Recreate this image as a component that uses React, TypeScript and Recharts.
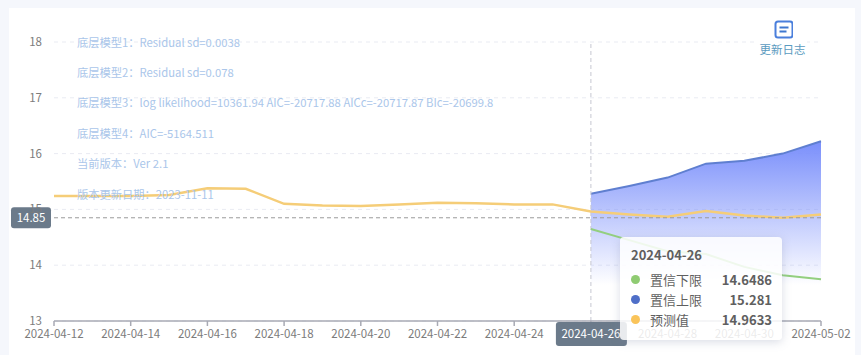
import React from "react";
import {
  ComposedChart,
  Area,
  Line,
  XAxis,
  YAxis,
  CartesianGrid,
  Tooltip,
  ReferenceLine,
} from "recharts";

const FONT = '"Noto Sans CJK SC", "Noto Sans", sans-serif';

const dates = [
  "2024-04-12", "2024-04-13", "2024-04-14", "2024-04-15", "2024-04-16", "2024-04-17", "2024-04-18",
  "2024-04-19", "2024-04-20", "2024-04-21", "2024-04-22", "2024-04-23", "2024-04-24", "2024-04-25",
  "2024-04-26", "2024-04-27", "2024-04-28", "2024-04-29", "2024-04-30", "2024-05-01", "2024-05-02",
];
const predicted = [
  15.24, 15.24, 15.24, 15.26, 15.38, 15.37, 15.1, 15.07, 15.06, 15.09, 15.12, 15.11, 15.09, 15.09,
  14.9633, 14.91, 14.87, 14.97, 14.89, 14.85, 14.91,
];
const upperDates = dates.slice(14);
const upper = [15.281, 15.42, 15.57, 15.82, 15.87, 16.0, 16.22];
const lower = [14.6486, 14.45, 14.25, 14.2, 13.97, 13.82, 13.75];

const xTicks = dates.filter((_, i) => i % 2 === 0);
const yTicks = [13, 14, 15, 16, 17, 18];
const activeDate = "2024-04-26";
const currentValue = 14.85;

const notes = [
  "底层模型1：Residual sd=0.0038",
  "底层模型2：Residual sd=0.078",
  "底层模型3：log likelihood=10361.94 AIC=-20717.88 AICc=-20717.87 BIc=-20699.8",
  "底层模型4：AIC=-5164.511",
  "当前版本：Ver 2.1",
  "版本更新日期：2023-11-11",
];
const noteTops = [32, 62, 92, 123, 153, 184];

const data = dates.map((date, i) => {
  const k = upperDates.indexOf(date);
  return {
    date,
    predicted: predicted[i],
    upper: k >= 0 ? upper[k] : null,
    lower: k >= 0 ? lower[k] : null,
  };
});

const rows = [
  { key: "lower", name: "置信下限", color: "#8fcb72" },
  { key: "upper", name: "置信上限", color: "#4f6fc8" },
  { key: "predicted", name: "预测值", color: "#fac45a" },
];

function XTick({ x, y, payload }: any) {
  const active = payload.value === activeDate;
  return (
    <g>
      {active && <rect x={x - 35} y={y - 6} width={71} height={24} rx={3} fill="#6b7a8a" />}
      <text x={x} y={y + 10} textAnchor="middle" fontSize={11.5} fontFamily={FONT} fill={active ? "#fff" : "#7c7c7c"}>
        {payload.value}
      </text>
    </g>
  );
}

function ValueBadge({ viewBox }: any) {
  return (
    <g>
      <rect x={viewBox.x - 43} y={viewBox.y - 10.5} width={40} height={21} rx={3} fill="#6b7a8a" />
      <text x={viewBox.x - 23} y={viewBox.y + 4} textAnchor="middle" fontSize={11.5} fontFamily={FONT} fill="#fff">
        {currentValue}
      </text>
    </g>
  );
}

function TipBox({ payload, label }: any) {
  const item = payload && payload[0] ? payload[0].payload : data[14];
  return (
    <div
      style={{
        width: 162,
        height: 103,
        boxSizing: "border-box",
        padding: "9px 10px 0 11px",
        background: "rgba(255,255,255,0.85)",
        borderRadius: 4,
        boxShadow: "0 2px 10px rgba(120,130,160,0.28)",
        fontFamily: FONT,
        color: "#5f5f5f",
        fontSize: 13,
      }}
    >
      <div style={{ fontWeight: 700, marginBottom: 5, lineHeight: "18px" }}>{label || activeDate}</div>
      {rows.map((r) => (
        <div key={r.key} style={{ display: "flex", alignItems: "center", height: 20 }}>
          <span style={{ width: 9, height: 9, borderRadius: 5, background: r.color, marginRight: 10 }} />
          <span style={{ flex: 1 }}>{r.name}</span>
          <span style={{ fontWeight: 700 }}>{item[r.key]}</span>
        </div>
      ))}
    </div>
  );
}

export default function App() {
  return (
    <div style={{ position: "absolute", left: 0, top: 0, width: 861, height: 355, background: "#f5f7fc", overflow: "hidden" }}>
      <div style={{ position: "absolute", left: 9, top: 8, width: 846, height: 347, background: "#fff" }}>
        <ComposedChart width={846} height={347} data={data} margin={{ top: 34, right: 34, bottom: 0, left: 0 }}>
          <defs>
            <linearGradient id="upperFill" x1="0" y1="0" x2="0" y2="1">
              <stop offset="0%" stopColor="#7a8ffb" stopOpacity={1} />
              <stop offset="80%" stopColor="#7a8ffb" stopOpacity={0} />
            </linearGradient>
          </defs>
          <CartesianGrid horizontal vertical={false} strokeDasharray="4 4" stroke="#e9ebf2" />
          <XAxis
            dataKey="date"
            scale="point"
            ticks={xTicks}
            interval={0}
            height={34}
            tick={<XTick />}
            tickSize={5}
            stroke="#a8aab4"
            strokeWidth={1.5}
          />
          <YAxis
            domain={[13, 18]}
            ticks={yTicks}
            width={45}
            axisLine={false}
            tickLine={false}
            tickMargin={6}
            tick={{ fontSize: 11.5, fontFamily: FONT, fill: "#7c7c7c" }}
          />
          <ReferenceLine x={activeDate} stroke="#c6c8d2" strokeDasharray="4 3" />
          <Area
            type="linear"
            dataKey="upper"
            name="置信上限"
            stroke="#5f7fd0"
            strokeWidth={2}
            fill="url(#upperFill)"
            fillOpacity={1}
            dot={false}
            activeDot={false}
            isAnimationActive={false}
          />
          <Line
            type="linear"
            dataKey="lower"
            name="置信下限"
            stroke="#93cf7f"
            strokeWidth={2}
            dot={false}
            activeDot={false}
            isAnimationActive={false}
          />
          <Line
            type="linear"
            dataKey="predicted"
            name="预测值"
            stroke="#f5cd78"
            strokeWidth={2.5}
            dot={false}
            activeDot={false}
            isAnimationActive={false}
          />
          <ReferenceLine y={currentValue} stroke="#9a9a9a" strokeDasharray="4 3" label={<ValueBadge />} />
          <Tooltip
            active
            defaultIndex={14}
            cursor={false}
            position={{ x: 611, y: 229 }}
            isAnimationActive={false}
            wrapperStyle={{ outline: "none", zIndex: 5 }}
            content={<TipBox />}
          />
        </ComposedChart>
      </div>

      {notes.map((t, i) => (
        <div
          key={t}
          style={{
            position: "absolute",
            left: 77,
            top: noteTops[i],
            height: 20,
            lineHeight: "20px",
            fontSize: 11.27,
            whiteSpace: "nowrap",
            fontFamily: FONT,
            color: "#aac6ea",
          }}
        >
          {t}
        </div>
      ))}

      <div style={{ position: "absolute", left: 758, top: 18, width: 49, height: 40, background: "#fff", textAlign: "center", fontFamily: FONT }}>
        <svg width={20} height={20} style={{ display: "block", margin: "2px auto 0" }}>
          <rect x={2.5} y={1.5} width={17} height={16} rx={2.5} fill="none" stroke="#4a7fdc" strokeWidth={2} />
          <rect x={6.5} y={6.5} width={9} height={2} fill="#3f78d0" />
          <rect x={6.5} y={10.5} width={7} height={2} fill="#3f78d0" />
        </svg>
        <div style={{ fontSize: 11.5, lineHeight: "16px", marginTop: 1, color: "#5b9bc0", whiteSpace: "nowrap" }}>更新日志</div>
      </div>
    </div>
  );
}
